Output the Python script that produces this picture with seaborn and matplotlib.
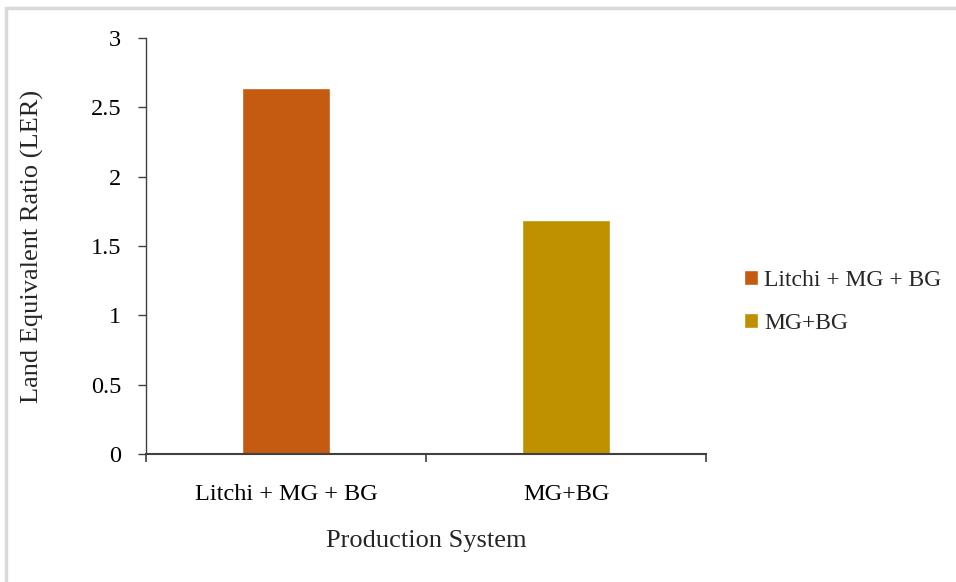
import matplotlib
matplotlib.use("Agg")
import matplotlib.pyplot as plt
import seaborn as sns
import pandas as pd
from matplotlib.patches import Rectangle

systems = ["Litchi + MG + BG", "MG+BG"]
ler = [2.64, 1.69]
colors = ["#C55A11", "#BF9000"]
y_ticks = [0, 0.5, 1, 1.5, 2, 2.5, 3]
y_tick_labels = ["0", "0.5", "1", "1.5", "2", "2.5", "3"]

sns.set_style("white")
plt.rcParams["font.family"] = ["Liberation Serif", "DejaVu Serif"]

df = pd.DataFrame({"system": systems, "ler": ler})

fig = plt.figure(figsize=(9.56, 5.82), dpi=100)
ax = fig.add_axes([146 / 956, 1 - 454 / 582, 560 / 956, 416 / 582])

sns.barplot(data=df, x="system", y="ler", hue="system", palette=colors,
            width=0.315, dodge=False, legend=True, ax=ax, saturation=1)

ax.set_xlim(-0.5, 1.5)
ax.set_ylim(0, 3)
ax.set_yticks(y_ticks)
ax.set_yticklabels(y_tick_labels)
ax.set_xticks([0, 1])
ax.set_xticklabels(systems)
ax.set_xticks([-0.5, 0.5, 1.5], minor=True)
ax.tick_params(axis="x", which="major", bottom=True, length=0, pad=21.5, labelsize=17.5,
               labelcolor="black")
ax.tick_params(axis="x", which="minor", bottom=True, length=6, width=1.2, color="#404040",
               direction="out")
ax.tick_params(axis="y", which="major", left=True, length=6, width=1.0, color="#404040",
               direction="out", pad=12, labelsize=17.5, labelcolor="black")

for side in ["top", "right"]:
    ax.spines[side].set_visible(False)
ax.spines["left"].set_color("#404040")
ax.spines["left"].set_linewidth(1.0)
ax.spines["bottom"].set_color("#404040")
ax.spines["bottom"].set_linewidth(1.5)

ax.set_xlabel("Production System", fontsize=19)
ax.set_ylabel("Land Equivalent Ratio (LER)", fontsize=19)
ax.xaxis.set_label_coords(0.5, (454 - 541) / 416)
ax.xaxis.label.set_va("center")
ax.yaxis.set_label_coords((32 - 146) / 560, 0.5)
ax.yaxis.label.set_va("center")

leg = ax.legend(loc="center left", bbox_to_anchor=((744 - 146) / 560, (454 - 302) / 416),
                frameon=False, fontsize=17, handlelength=0.6, handleheight=0.6,
                handletextpad=0.25, labelspacing=0.95, borderpad=0, borderaxespad=0)

# light grey chart-area border (open at right/bottom like the source crop)
fig.patches.append(Rectangle((6 / 956, -0.1), 1.2, 1 - 8 / 582 + 0.1,
                             transform=fig.transFigure, fill=False,
                             edgecolor="#D9D9D9", linewidth=2.5))

fig.savefig("out.png", dpi=100)
